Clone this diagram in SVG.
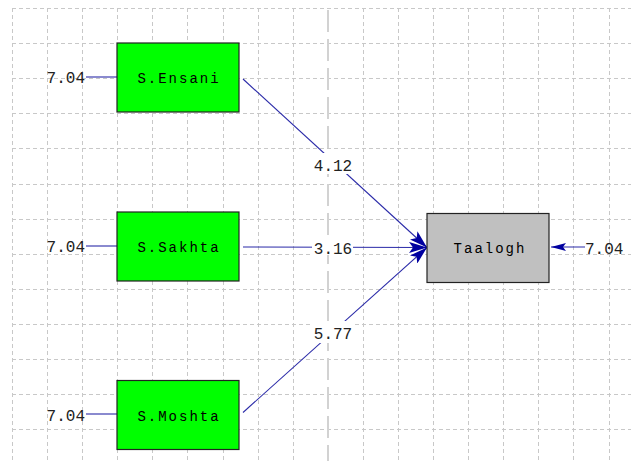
<svg xmlns="http://www.w3.org/2000/svg" width="631" height="461" viewBox="0 0 631 461">
<style>
.g{stroke:#c8c8c8;stroke-width:1;stroke-dasharray:4,3;fill:none}
.gc{stroke:#d2d2d2;stroke-width:2;stroke-dasharray:22,7;fill:none}
.e{stroke:#2a2aa8;stroke-width:1.1;fill:none}
.box{stroke:#222;stroke-width:1.2}
.lbl{font-family:"Liberation Mono","Courier New",monospace;font-size:14px;letter-spacing:2px;fill:#000;text-anchor:middle}
.num{font-family:"Liberation Mono","Courier New",monospace;font-size:16px;fill:#222}
.bg{fill:#fff}
</style>
<defs>
<marker id="ah" markerUnits="userSpaceOnUse" markerWidth="19" markerHeight="11" refX="18" refY="5.5" orient="auto" viewBox="0 0 19 11">
<path d="M18,5.5 L0,0 L4,5.5 L0,11 Z" fill="#0000a0"/>
</marker>
<marker id="ahs" markerUnits="userSpaceOnUse" markerWidth="16" markerHeight="9" refX="15" refY="4.5" orient="auto" viewBox="0 0 16 9">
<path d="M15,4.5 L0,0.5 L3,4.5 L0,8.5 Z" fill="#0000a0"/>
</marker>
</defs>
<rect width="631" height="461" fill="#fff"/>
<g id="grid">
<path class="g" d="M12,8.5H631M12,43.5H631M12,78.5H631M12,113.5H631M12,148.5H631M12,184.5H631M12,219.5H631M12,254.5H631M12,289.5H631M12,324.5H631M12,359.5H631M12,394.5H631M12,429.5H631"/>
<path class="g" d="M12.5,8V461M47.5,8V461M82.5,8V461M117.5,8V461M152.5,8V461M187.5,8V461M223.5,8V461M258.5,8V461M293.5,8V461M363.5,8V461M398.5,8V461M433.5,8V461M468.5,8V461M503.5,8V461M538.5,8V461M573.5,8V461M609.5,8V461"/>
<path class="gc" d="M328,10V461"/>
</g>
<g id="connectors">
<line class="e" x1="86" y1="77" x2="117" y2="77"/>
<line class="e" x1="86" y1="246" x2="117" y2="246"/>
<line class="e" x1="86" y1="414" x2="117" y2="414"/>
<line class="e" x1="243" y1="79" x2="427" y2="247.5" marker-end="url(#ah)"/>
<line class="e" x1="243" y1="247" x2="427" y2="247.5" marker-end="url(#ah)"/>
<line class="e" x1="243" y1="412.5" x2="427" y2="247.5" marker-end="url(#ah)"/>
<line class="e" x1="585" y1="247" x2="551" y2="247" marker-end="url(#ahs)"/>
</g>
<g id="labels">
<rect class="bg" x="311" y="153" width="43" height="21"/>
<text class="num" x="333" y="170.5" text-anchor="middle">4.12</text>
<rect class="bg" x="312" y="238" width="41" height="17"/>
<text class="num" x="333" y="254" text-anchor="middle">3.16</text>
<rect class="bg" x="311" y="321" width="43" height="22"/>
<text class="num" x="333" y="339" text-anchor="middle">5.77</text>
<text class="num" x="85" y="83" text-anchor="end">7.04</text>
<text class="num" x="85" y="252" text-anchor="end">7.04</text>
<text class="num" x="85" y="420.5" text-anchor="end">7.04</text>
<text class="num" x="585" y="254">7.04</text>
</g>
<g id="n-ensani">
<rect class="box" x="117" y="43" width="122" height="69" fill="#00ff00"/>
<text class="lbl" x="179" y="83">S.Ensani</text>
</g>
<g id="n-sakhta">
<rect class="box" x="117" y="212" width="122" height="69" fill="#00ff00"/>
<text class="lbl" x="179" y="252">S.Sakhta</text>
</g>
<g id="n-moshta">
<rect class="box" x="117" y="380.5" width="122" height="69" fill="#00ff00"/>
<text class="lbl" x="179" y="420.5">S.Moshta</text>
</g>
<g id="n-taalogh">
<rect class="box" x="427" y="213.5" width="122" height="69" fill="#c0c0c0"/>
<text class="lbl" x="490" y="253">Taalogh</text>
</g>
</svg>
